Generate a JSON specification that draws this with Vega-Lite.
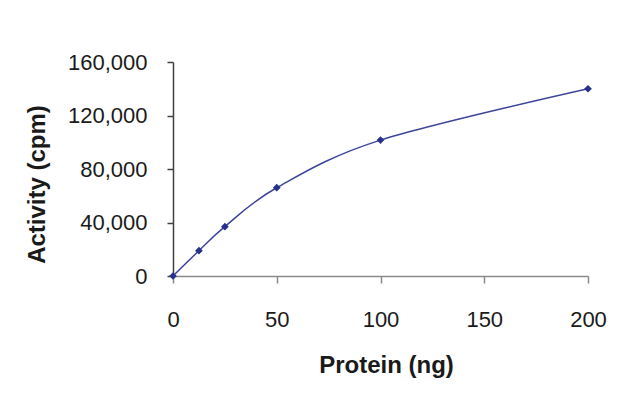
{
  "$schema": "https://vega.github.io/schema/vega-lite/v6.json",
  "autosize": "none",
  "width": 415,
  "height": 214,
  "padding": {"left": 173, "top": 62, "right": 52, "bottom": 119},
  "background": "white",
  "config": {
    "view": {"stroke": null},
    "font": "Liberation Sans",
    "axis": {"grid": false, "labelColor": "#1a1a1a", "titleColor": "#1a1a1a", "labelFont": "Liberation Sans", "titleFont": "Liberation Sans"}
  },
  "data": {
    "values": [
      {"protein": 0, "activity": 0},
      {"protein": 12.5, "activity": 18900},
      {"protein": 25, "activity": 36900},
      {"protein": 50, "activity": 66000},
      {"protein": 100, "activity": 101600},
      {"protein": 200, "activity": 140000}
    ]
  },
  "encoding": {
    "x": {
      "field": "protein", "type": "quantitative",
      "scale": {"domain": [0, 200], "nice": false, "zero": true},
      "axis": {
        "title": "Protein (ng)", "values": [0, 50, 100, 150, 200],
        "labelFontSize": 22, "titleFontSize": 24, "titleFontWeight": "bold", "labelFlush": false,
        "tickSize": 7, "labelPadding": 26, "domainColor": "#8a8a8a", "tickColor": "#8a8a8a",
        "domainWidth": 1.5, "tickWidth": 1.5,
        "titleX": 213, "titleY": 89, "titleBaseline": "middle"
      }
    },
    "y": {
      "field": "activity", "type": "quantitative",
      "scale": {"domain": [0, 160000], "nice": false},
      "axis": {
        "title": "Activity (cpm)", "values": [0, 40000, 80000, 120000, 160000], "format": ",d",
        "labelFontSize": 22, "titleFontSize": 24, "titleFontWeight": "bold", "labelFlush": false,
        "tickSize": 6, "labelPadding": 20, "domainColor": "#404040", "tickColor": "#404040",
        "domainWidth": 1.5, "tickWidth": 1.5,
        "titleX": -136, "titleY": 122, "titleBaseline": "middle"
      }
    }
  },
  "layer": [
    {"mark": {"type": "line", "interpolate": "cardinal", "color": "#3d4599", "strokeWidth": 1.5}},
    {"mark": {"type": "point", "shape": "diamond", "filled": true, "color": "#27308a", "size": 60, "opacity": 1}}
  ]
}
